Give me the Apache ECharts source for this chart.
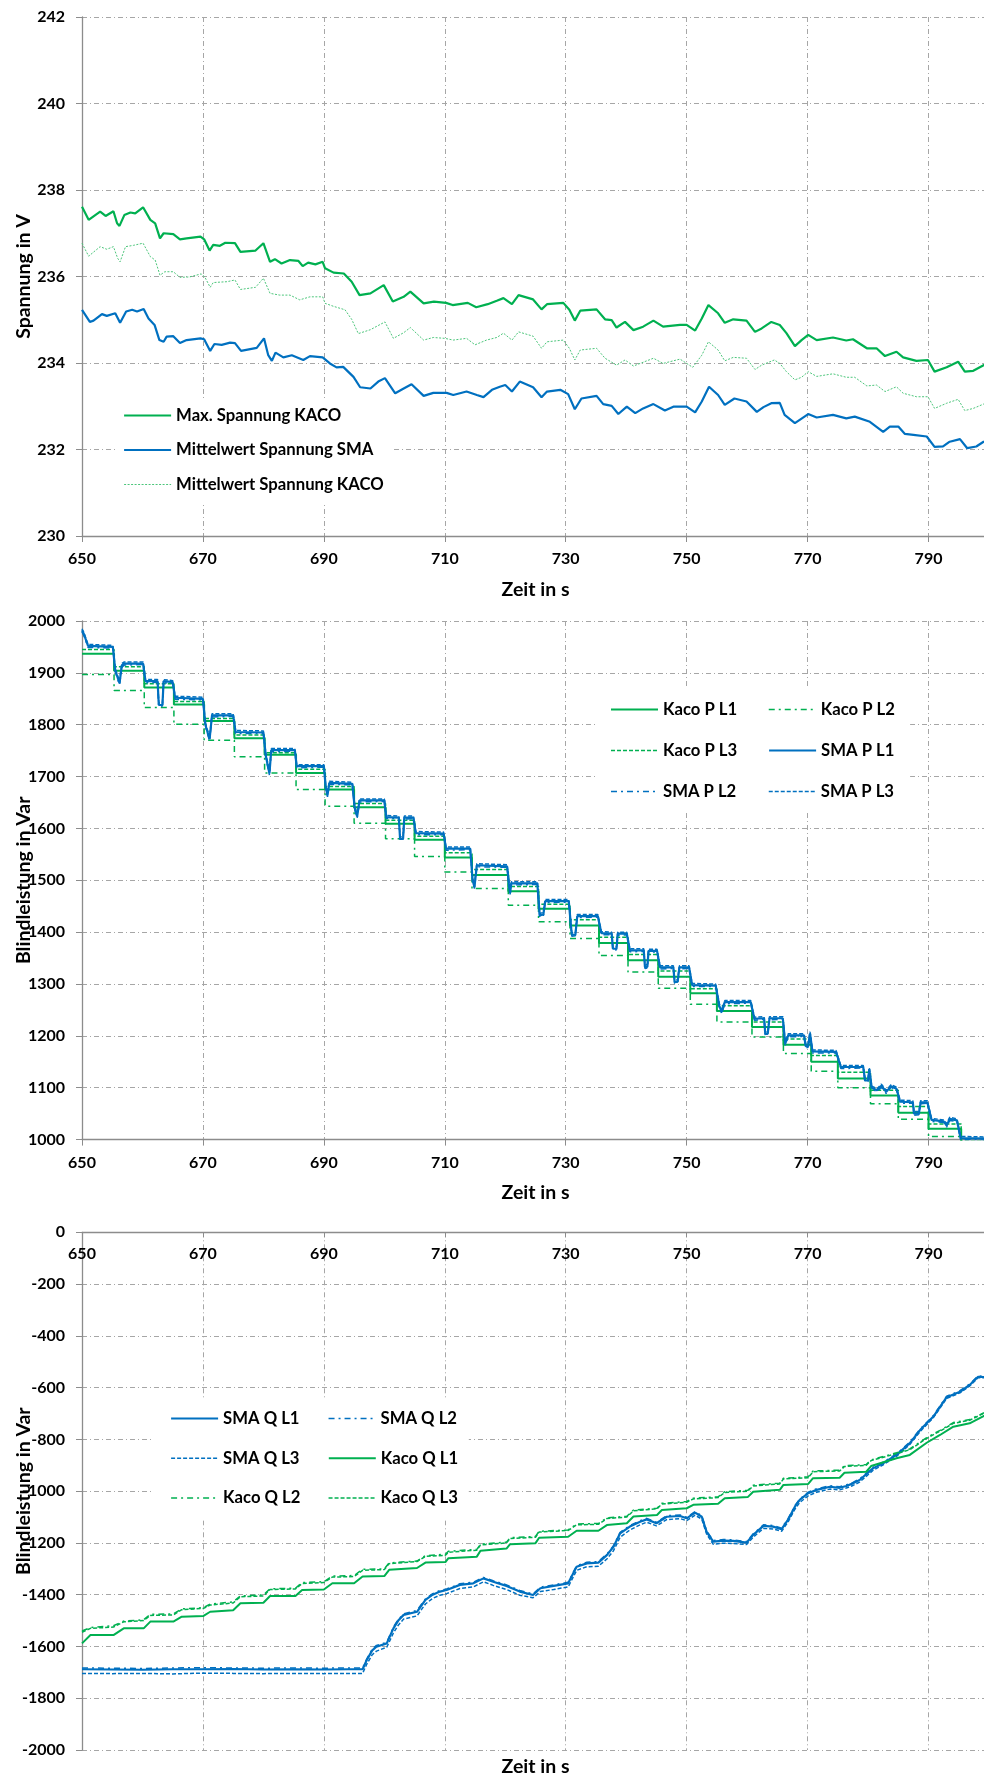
<!DOCTYPE html>
<html><head><meta charset="utf-8">
<script src="https://cdn.jsdelivr.net/npm/echarts@6/dist/echarts.min.js"></script>
<style>html,body{margin:0;padding:0;background:#fff;overflow:hidden;width:984px;height:1778px}#c{width:1000px;height:1778px}</style>
</head><body><div id="c"></div>
<script>
// ---------- Chart 1: Spannung ----------
const maxSpannungKaco = [[650,237.61],[651.1,237.31],[653,237.50],[653.9,237.40],[655.2,237.51],[655.8,237.23],[656.2,237.17],[657,237.42],[658,237.48],[658.8,237.46],[660.1,237.60],[661.3,237.31],[662.1,237.23],[662.9,236.88],[663.5,237.00],[665.1,236.98],[666.2,236.86],[667.3,236.88],[669.6,236.92],[670.2,236.86],[671.1,236.60],[671.7,236.73],[672.8,236.71],[673.7,236.78],[675.3,236.77],[676.2,236.57],[678.7,236.60],[680,236.77],[681.1,236.34],[681.9,236.40],[683,236.30],[684.4,236.38],[685.8,236.36],[686.5,236.24],[687.4,236.32],[688.6,236.28],[689.8,236.34],[690.2,236.19],[691.6,236.09],[693.3,236.07],[694.6,235.88],[695.9,235.57],[697.7,235.61],[699.9,235.80],[701.4,235.42],[703.2,235.53],[704.3,235.65],[706.5,235.38],[708.2,235.42],[710.2,235.39],[711.3,235.34],[713.8,235.39],[715.2,235.29],[717.1,235.36],[718.6,235.44],[719.7,235.50],[721.1,235.36],[722.2,235.57],[724.6,235.47],[726,235.24],[726.9,235.36],[729.6,235.39],[730.6,235.23],[731.5,234.98],[732.4,235.21],[735.1,235.24],[736.5,235.01],[737.6,234.99],[738.4,234.82],[739.8,234.95],[741.2,234.76],[742.8,234.84],[744.5,234.98],[746.1,234.84],[748.9,234.88],[750,234.88],[751.4,234.75],[752.5,235.03],[753.6,235.34],[755.2,235.15],[756.3,234.93],[757.7,235.01],[759.9,234.98],[761.3,234.72],[762.4,234.80],[764,234.95],[765.4,234.88],[766.5,234.69],[767.9,234.39],[769,234.53],[770.1,234.65],[771.5,234.53],[774.2,234.59],[776.4,234.52],[777.5,234.55],[779.8,234.34],[781.4,234.34],[782.8,234.16],[784.7,234.26],[785.8,234.13],[788,234.05],[789.9,234.07],[791,233.80],[793,233.90],[794.9,234.03],[796,233.80],[797.4,233.82],[799.1,233.95],[800,233.97]];
const mittelSpannungSma = [[650,235.23],[651.3,234.95],[651.9,234.98],[653.3,235.13],[654.1,235.09],[655.5,235.15],[656.3,234.93],[657.3,235.19],[658.3,235.23],[659.1,235.19],[660.2,235.25],[661,235.03],[662,234.88],[662.8,234.53],[663.5,234.49],[664,234.61],[665.1,234.62],[666.2,234.46],[667.3,234.53],[669.6,234.57],[670.2,234.55],[671.2,234.28],[671.9,234.44],[673.1,234.42],[674.5,234.47],[675.3,234.46],[676.3,234.28],[678.9,234.35],[680.1,234.57],[680.8,234.18],[681.4,234.05],[682,234.24],[683.3,234.13],[684.7,234.18],[686.6,234.07],[687.7,234.16],[689.8,234.13],[691,233.99],[692.1,233.90],[693.2,233.91],[694.9,233.68],[696,233.44],[697.7,233.41],[699,233.57],[700.1,233.65],[701.8,233.30],[703.2,233.41],[704.5,233.51],[706.5,233.24],[708.1,233.31],[710.3,233.31],[711.4,233.26],[713.6,233.34],[715.3,233.26],[716.4,233.21],[717.8,233.38],[719.1,233.45],[720,233.49],[721.1,233.34],[722.4,233.57],[724.6,233.44],[726,233.21],[726.9,233.34],[729.1,233.38],[730.4,233.28],[731.5,232.93],[732.6,233.18],[735.1,233.24],[736.2,233.05],[737.6,233.01],[738.7,232.82],[740.1,232.99],[741.5,232.84],[742.8,232.95],[744.5,233.05],[746.4,232.90],[747.8,232.99],[750,232.99],[751.4,232.86],[752.5,233.11],[753.7,233.45],[755.2,233.26],[756.3,233.03],[757.9,233.18],[759.9,233.11],[761.6,232.87],[762.7,232.98],[764,233.07],[765.4,233.08],[766.2,232.80],[767.9,232.61],[770.1,232.82],[771.5,232.74],[774.2,232.80],[776.4,232.72],[777.8,232.76],[780.3,232.64],[782.5,232.41],[783.6,232.53],[785,232.53],[786.1,232.36],[787.5,232.34],[789.7,232.30],[791,232.06],[792.4,232.07],[793.5,232.18],[795.2,232.24],[796.4,232.03],[797.9,232.07],[799.1,232.18],[800,232.20]];
const mittelSpannungKaco = [[650,236.77],[651.1,236.47],[653,236.69],[654.1,236.63],[655.2,236.69],[655.9,236.42],[656.3,236.34],[657.2,236.69],[658.5,236.72],[660.1,236.77],[661.3,236.46],[662.1,236.38],[662.9,236.03],[663.7,236.11],[665.1,236.11],[666.2,235.98],[667.8,235.99],[669.7,236.06],[670.3,235.99],[671.2,235.75],[671.7,235.86],[674,235.88],[675.3,235.92],[676.2,235.70],[678.7,235.75],[680,235.96],[681.1,235.61],[682.7,235.57],[684.4,235.57],[686,235.46],[687.7,235.53],[689.8,235.53],[690.2,235.38],[691.6,235.31],[693.5,235.23],[694.6,235.01],[695.7,234.68],[697.7,234.77],[700.1,234.95],[701.5,234.57],[703.2,234.70],[704.3,234.82],[706.5,234.53],[708.1,234.59],[710,234.57],[711.4,234.53],[713.6,234.57],[715,234.42],[716.9,234.53],[718.6,234.59],[719.7,234.69],[721.1,234.53],[722.2,234.72],[724.6,234.62],[726,234.34],[726.9,234.49],[729.6,234.53],[730.6,234.34],[731.5,234.07],[732.4,234.30],[735.1,234.34],[736.5,234.11],[738.4,233.95],[739.8,234.07],[741.2,233.93],[744.5,234.11],[746.1,233.99],[748.9,234.09],[751,233.90],[752.5,234.18],[753.6,234.49],[755.2,234.30],[756.3,234.05],[757.7,234.13],[759.9,234.11],[761.3,233.85],[762.4,233.95],[764.5,234.07],[765.4,233.99],[766.5,233.80],[767.9,233.61],[769,233.67],[770.1,233.80],[771.5,233.69],[774.2,233.75],[776.4,233.67],[777.8,233.67],[779.8,233.47],[781.4,233.49],[782.8,233.34],[784.7,233.45],[785.8,233.30],[788,233.22],[789.9,233.22],[791,232.95],[793,233.07],[794.9,233.16],[796,232.90],[797.4,232.95],[799.1,233.05],[800,233.07]];

// ---------- Chart 2: P ----------
const kacoStepT = [650,655.3,660.3,665.2,670.2,675.2,680.2,685.4,690.2,695.0,700.2,705.0,710.0,714.5,720.5,725.5,730.7,735.5,740.3,745.3,750.6,755.0,760.8,766.0,770.6,775.0,780.4,785.0,790.0,795.4,800];
const kacoPL1 = [1937,1904,1872,1839,1807,1774,1742,1707,1675,1641,1609,1578,1544,1510,1479,1445,1413,1379,1346,1314,1282,1248,1217,1183,1150,1118,1085,1052,1021,995,995];
const kacoPL2 = [1897,1866,1833,1801,1770,1738,1707,1675,1643,1610,1580,1546,1516,1484,1452,1420,1388,1355,1323,1292,1261,1227,1198,1166,1132,1100,1069,1039,1006,975,975];
const kacoPL3 = [1945,1912,1879,1845,1812,1780,1746,1714,1681,1648,1616,1585,1553,1521,1488,1454,1424,1390,1357,1325,1291,1258,1227,1194,1162,1130,1095,1064,1030,998,998];
const smaPT = [650.0,650.3,651.0,655.1,655.5,656.2,656.6,657.0,660.1,660.5,662.5,662.7,663.3,663.5,665.0,665.4,670.0,670.4,671.1,671.5,675.0,675.4,680.0,680.4,681.0,681.3,685.2,685.5,690.0,690.3,690.6,690.9,694.7,695.1,695.5,695.9,700.0,700.3,702.4,702.6,703.1,703.3,704.8,705.2,709.8,710.2,714.2,714.6,714.9,715.3,720.3,720.6,720.8,721.0,725.3,725.7,726.3,726.6,730.5,731.0,731.6,731.9,735.3,735.9,737.6,737.8,738.4,738.6,740.1,740.6,742.9,743.1,743.5,743.7,745.1,745.6,747.8,748.0,748.5,748.8,750.4,750.9,754.8,755.4,755.8,756.3,760.6,761.2,762.8,763.0,763.4,763.7,765.9,766.3,766.8,769.4,769.7,770.1,770.4,770.8,774.7,775.5,779.2,779.5,780.0,780.2,780.6,781.5,782.2,783.0,783.8,784.7,785.3,787.4,787.6,788.4,788.7,789.8,790.5,792.5,793.0,793.5,794.7,795.3,800.0];
const smaPL1 = [1982,1975,1952,1950,1905,1880,1915,1918,1918,1884,1884,1838,1838,1884,1882,1852,1850,1800,1772,1818,1818,1786,1785,1740,1706,1751,1751,1720,1720,1680,1664,1688,1686,1640,1623,1654,1654,1622,1621,1580,1580,1621,1621,1591,1590,1561,1561,1500,1487,1529,1527,1494,1476,1494,1494,1432,1434,1460,1460,1395,1395,1431,1431,1398,1397,1368,1368,1397,1397,1365,1365,1333,1333,1364,1364,1332,1332,1304,1304,1332,1332,1298,1297,1258,1246,1265,1265,1233,1234,1204,1204,1234,1234,1185,1201,1201,1180,1180,1205,1170,1169,1140,1140,1114,1114,1136,1100,1095,1104,1092,1103,1098,1073,1072,1050,1050,1072,1072,1038,1035,1027,1040,1037,1003,1002];
const smaPL2 = [1979,1972,1949,1948,1902,1877,1911,1915,1916,1881,1882,1835,1836,1881,1880,1849,1848,1797,1769,1815,1816,1783,1783,1737,1703,1748,1749,1717,1718,1677,1661,1685,1684,1637,1620,1651,1652,1619,1619,1577,1578,1618,1619,1588,1588,1558,1559,1497,1484,1526,1525,1491,1473,1491,1492,1429,1431,1457,1458,1392,1393,1428,1429,1395,1395,1365,1366,1394,1395,1362,1363,1330,1331,1361,1362,1329,1330,1301,1302,1329,1330,1295,1295,1255,1243,1262,1263,1230,1232,1201,1202,1231,1232,1182,1198,1199,1177,1178,1202,1167,1167,1137,1138,1111,1112,1133,1097,1093,1101,1089,1101,1095,1070,1070,1047,1048,1069,1070,1035,1033,1024,1037,1035,1000,999];
const smaPL3 = [1985,1978,1955,1953,1908,1884,1918,1921,1921,1887,1887,1842,1842,1887,1885,1855,1853,1804,1776,1821,1821,1789,1788,1744,1710,1754,1754,1723,1723,1684,1668,1691,1689,1644,1627,1657,1657,1625,1624,1584,1584,1624,1624,1594,1593,1564,1564,1504,1491,1532,1530,1497,1480,1497,1497,1436,1438,1463,1463,1399,1399,1434,1434,1401,1400,1372,1372,1400,1400,1368,1368,1337,1337,1367,1367,1335,1335,1308,1308,1335,1335,1301,1300,1262,1250,1268,1268,1236,1237,1208,1208,1237,1237,1189,1204,1204,1184,1184,1208,1173,1172,1143,1143,1118,1118,1139,1103,1098,1107,1095,1106,1101,1076,1075,1054,1054,1075,1075,1041,1038,1031,1043,1040,1006,1005];

// ---------- Chart 3: Q ----------
const smaQT = [650,655,660,665,670,675,680,685,690,694,696.4,697.1,698.0,698.7,700.4,701.5,702.3,703.2,705.4,706.8,708.0,709.2,710.3,712.5,714.7,716.4,718.0,720.2,722.4,724.6,725.8,728.0,730.4,731.8,733.5,735.4,736.8,737.9,739.0,740.6,742.3,743.4,745.0,746.7,748.9,750.0,751.4,752.5,753.3,754.4,756.1,757.7,759.9,761.0,762.7,764.3,765.7,766.8,767.9,768.7,770.1,771.5,773.7,775.3,776.4,777.5,778.6,780.8,782.5,784.7,786.9,788.6,790.8,793.0,795.2,796.8,798.2,800];
const smaQL1 = [-1688,-1689,-1690,-1688,-1688,-1687,-1689,-1688,-1689,-1688,-1688,-1652,-1615,-1601,-1588,-1530,-1500,-1478,-1466,-1420,-1400,-1388,-1382,-1362,-1356,-1337,-1350,-1366,-1388,-1401,-1375,-1366,-1356,-1292,-1279,-1276,-1247,-1215,-1163,-1137,-1118,-1109,-1124,-1099,-1096,-1105,-1083,-1099,-1157,-1195,-1191,-1192,-1199,-1169,-1134,-1137,-1147,-1109,-1060,-1034,-1008,-995,-983,-987,-980,-970,-957,-912,-892,-860,-815,-764,-712,-637,-616,-590,-558,-560];
const smaQL2 = [-1683,-1684,-1685,-1683,-1682,-1683,-1684,-1683,-1684,-1683,-1683,-1648,-1610,-1596,-1584,-1525,-1496,-1474,-1461,-1416,-1396,-1384,-1378,-1358,-1352,-1333,-1346,-1362,-1384,-1397,-1371,-1362,-1352,-1288,-1275,-1272,-1243,-1211,-1159,-1133,-1114,-1105,-1120,-1095,-1092,-1101,-1079,-1095,-1153,-1191,-1187,-1188,-1195,-1165,-1130,-1133,-1143,-1105,-1056,-1030,-1004,-991,-979,-983,-976,-966,-953,-908,-888,-856,-811,-760,-708,-633,-612,-586,-555,-557];
const smaQL3 = [-1704,-1705,-1704,-1706,-1703,-1704,-1705,-1704,-1705,-1704,-1704,-1668,-1632,-1618,-1603,-1548,-1518,-1494,-1482,-1436,-1414,-1402,-1396,-1376,-1370,-1350,-1364,-1380,-1402,-1412,-1388,-1380,-1370,-1306,-1292,-1290,-1262,-1230,-1178,-1150,-1130,-1120,-1134,-1110,-1106,-1114,-1093,-1108,-1166,-1205,-1201,-1202,-1206,-1178,-1144,-1146,-1155,-1118,-1070,-1044,-1018,-1004,-992,-995,-988,-978,-965,-920,-898,-866,-820,-770,-716,-642,-620,-594,-562,-562];
const kacoQT = [650,651.4,655.2,656.9,660.2,661.3,665.1,666.5,670.1,671.2,675.0,676.2,680.0,681.1,685.3,686.4,690.0,691.4,695.0,696.4,700.0,700.8,705.4,706.8,710.1,710.6,715.3,715.9,720.2,720.8,725.0,725.6,730.4,731.8,735.4,736.8,740.1,741.2,745.1,745.9,750.0,751.1,755.2,756.3,760.1,761.0,765.4,766.0,770.1,770.9,775.3,776.1,779.7,780.5,784.7,786.9,789.7,791.9,794.1,796.8,799.1,800];
const kacoQL1 = [-1588,-1556,-1556,-1530,-1530,-1504,-1504,-1485,-1482,-1466,-1460,-1433,-1431,-1405,-1405,-1382,-1380,-1356,-1356,-1330,-1328,-1304,-1297,-1276,-1274,-1259,-1253,-1230,-1222,-1205,-1201,-1180,-1176,-1153,-1153,-1131,-1124,-1098,-1092,-1073,-1066,-1053,-1049,-1027,-1023,-1002,-995,-976,-972,-950,-948,-929,-925,-903,-873,-860,-813,-783,-751,-738,-710,-708];
const kacoQL2 = [-1540,-1527,-1520,-1502,-1497,-1476,-1474,-1455,-1450,-1436,-1428,-1405,-1401,-1377,-1375,-1353,-1350,-1328,-1326,-1302,-1300,-1277,-1270,-1249,-1244,-1232,-1225,-1205,-1197,-1180,-1175,-1155,-1150,-1127,-1125,-1103,-1097,-1073,-1066,-1047,-1040,-1027,-1022,-1002,-997,-977,-969,-950,-945,-922,-919,-902,-897,-879,-852,-837,-793,-765,-735,-723,-698,-696];
const kacoQL3 = [-1545,-1530,-1525,-1505,-1500,-1480,-1478,-1458,-1453,-1440,-1432,-1408,-1405,-1380,-1378,-1357,-1353,-1332,-1330,-1306,-1303,-1280,-1272,-1252,-1248,-1236,-1228,-1208,-1200,-1183,-1178,-1158,-1152,-1130,-1128,-1106,-1100,-1076,-1068,-1050,-1043,-1030,-1025,-1005,-1000,-980,-972,-953,-948,-925,-922,-905,-900,-882,-855,-840,-796,-768,-738,-726,-700,-698];

// ---------- styling ----------
const FONT = 'Lato';
const GREEN = '#00B050', BLUE = '#0070C0', LGREEN = '#4cc67b';
const AXC = '#8c8c8c';
const grid = {show:true, lineStyle:{color:'#a6a6a6', width:1, type:[5,3,1,3]}};
const lbl = {color:'#000', fontFamily:FONT, fontWeight:'bold', fontSize:16};
const nameStyle = {color:'#000', fontFamily:FONT, fontWeight:'bold', fontSize:19.5};
const zip = (t, v) => t.map((x, i) => [x, v[i]]);
const plain = v => String(v);

function xAxis(gi, o) {
  return Object.assign({
    type:'value', gridIndex:gi, min:650, max:800, interval:20,
    axisLine:{show:true, onZero:false, lineStyle:{color:AXC, width:1.3}},
    axisTick:{show:true, length:6, lineStyle:{color:AXC, width:1}},
    axisLabel:Object.assign({margin:15, showMaxLabel:false, formatter:plain}, lbl),
    splitLine:grid,
    name:'Zeit in s', nameLocation:'middle', nameGap:44, nameMoveOverlap:false, nameTextStyle:nameStyle
  }, o);
}
function yAxis(gi, min, max, interval, name) {
  return {
    type:'value', gridIndex:gi, min, max, interval,
    axisLine:{show:true, onZero:false, lineStyle:{color:AXC, width:1.3}},
    axisTick:{show:true, length:6, lineStyle:{color:AXC, width:1}},
    axisLabel:Object.assign({margin:17, formatter:plain}, lbl),
    splitLine:grid,
    name, nameLocation:'middle', nameGap:48, nameRotate:90, nameMoveOverlap:false, nameTextStyle:nameStyle
  };
}
function line(name, xi, yi, data, color, width, type, extra) {
  return Object.assign({
    name, type:'line', xAxisIndex:xi, yAxisIndex:yi, data,
    symbol:'none', showSymbol:false, animation:false, silent:true,
    lineStyle:{color, width, type}, itemStyle:{color},
    emphasis:{disabled:true}
  }, extra || {});
}
const legText = Object.assign({}, lbl, {fontSize:16.7, lineHeight:16});
const legCommon = {itemWidth:47, itemHeight:14, backgroundColor:'#fff', selectedMode:false,
  lineStyle:{width:'inherit'}, itemStyle:{opacity:0, borderWidth:0}};

const option = {
  backgroundColor:'#fff',
  animation:false,
  grid:[
    {left:82, right:11, top:17, height:519, outerBoundsMode:'none'},
    {left:82, right:11, top:621, height:518.6, outerBoundsMode:'none'},
    {left:82, right:11, top:1232.3, height:517.7, outerBoundsMode:'none'}
  ],
  xAxis:[
    xAxis(0, {}),
    xAxis(1, {nameGap:43}),
    xAxis(2, {position:'top', name:'', axisLabel:Object.assign({margin:14, inside:true, showMaxLabel:false, formatter:plain}, lbl), axisTick:{show:true, inside:true, length:5, lineStyle:{color:AXC}}}),
    xAxis(2, {position:'bottom', axisLine:{show:false, onZero:false}, axisTick:{show:false}, axisLabel:{show:false}, splitLine:{show:false}, nameGap:6.5})
  ],
  yAxis:[
    yAxis(0, 230, 242, 2, 'Spannung in V'),
    yAxis(1, 1000, 2000, 100, 'Blindleistung in Var'),
    yAxis(2, -2000, 0, 200, 'Blindleistung in Var')
  ],
  legend:[
    Object.assign({orient:'vertical', left:115, top:398, padding:[9,8,9,8], itemGap:17.5, textStyle:legText,
     data:['Max. Spannung KACO','Mittelwert Spannung SMA','Mittelwert Spannung KACO']}, legCommon),
    Object.assign({orient:'horizontal', left:595, top:689, width:320, padding:[12,8,13,15], itemGap:24,
     textStyle:Object.assign({width:81}, legText),
     data:['Kaco P L1','Kaco P L2','Kaco P L3','SMA P L1','SMA P L2','SMA P L3']}, legCommon),
    Object.assign({orient:'horizontal', left:153, top:1400, width:320, padding:[10,6,14,17], itemGap:22.7,
     textStyle:Object.assign({width:82}, legText),
     data:['SMA Q L1','SMA Q L2','SMA Q L3','Kaco Q L1','Kaco Q L2','Kaco Q L3']}, legCommon)
  ],
  series:[
    line('Mittelwert Spannung KACO', 0, 0, mittelSpannungKaco, LGREEN, 1, [2,1.5]),
    line('Max. Spannung KACO', 0, 0, maxSpannungKaco, GREEN, 2.2, 'solid'),
    line('Mittelwert Spannung SMA', 0, 0, mittelSpannungSma, BLUE, 2.2, 'solid'),

    line('Kaco P L2', 1, 1, zip(kacoStepT, kacoPL2), GREEN, 1.5, [6,4,2,4], {step:'end'}),
    line('Kaco P L1', 1, 1, zip(kacoStepT, kacoPL1), GREEN, 2, 'solid', {step:'end'}),
    line('Kaco P L3', 1, 1, zip(kacoStepT, kacoPL3), GREEN, 1.5, [4,2], {step:'end'}),
    line('SMA P L2', 1, 1, zip(smaPT, smaPL2), BLUE, 1.5, [6,4,2,4]),
    line('SMA P L1', 1, 1, zip(smaPT, smaPL1), BLUE, 2.2, 'solid'),
    line('SMA P L3', 1, 1, zip(smaPT, smaPL3), BLUE, 1.5, [4,2]),

    line('SMA Q L1', 2, 2, zip(smaQT, smaQL1), BLUE, 2.2, 'solid'),
    line('SMA Q L2', 2, 2, zip(smaQT, smaQL2), BLUE, 1.5, [6,4,2,4]),
    line('SMA Q L3', 2, 2, zip(smaQT, smaQL3), BLUE, 1.5, [4,2]),
    line('Kaco Q L1', 2, 2, zip(kacoQT, kacoQL1), GREEN, 2, 'solid'),
    line('Kaco Q L2', 2, 2, zip(kacoQT, kacoQL2), GREEN, 1.5, [6,4,2,4]),
    line('Kaco Q L3', 2, 2, zip(kacoQT, kacoQL3), GREEN, 1.5, [4,2])
  ]
};
const chart = echarts.init(document.getElementById('c'), null, {renderer:'canvas'});
chart.setOption(option);
</script></body></html>
